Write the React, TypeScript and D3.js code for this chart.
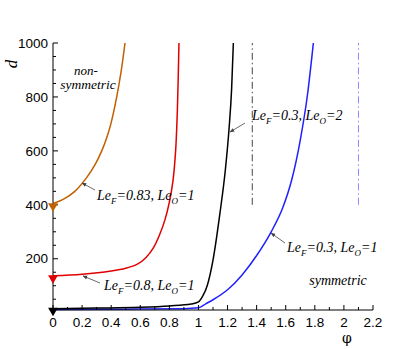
import React from "react";
import * as d3 from "d3";

const W = 407;
const H = 349;

// series: [phi, d]
const orangeSeries: [number, number][] = [
  [0, 405], [0.07, 420], [0.15, 450], [0.23, 500], [0.29, 550], [0.335, 600],
  [0.37, 650], [0.40, 705], [0.438, 800], [0.47, 900], [0.495, 1000],
];
const redSeries: [number, number][] = [
  [0, 137], [0.2, 143], [0.4, 155], [0.5, 165], [0.58, 180], [0.64, 205], [0.69, 240],
  [0.73, 285], [0.77, 345], [0.80, 410], [0.825, 490], [0.843, 600], [0.855, 750], [0.866, 1000],
];
const blackSeries: [number, number][] = [
  [0, 15], [0.3, 17], [0.6, 20], [0.8, 25], [0.95, 32], [1.0, 40], [1.03, 62],
  [1.06, 100], [1.1, 195], [1.148, 370], [1.185, 530], [1.21, 680], [1.228, 830], [1.24, 1000],
];
const blueSeries: [number, number][] = [
  [0, 12], [0.5, 13], [0.9, 15], [1.0, 18], [1.05, 33], [1.1, 48], [1.2, 85],
  [1.3, 140], [1.4, 212], [1.5, 300], [1.58, 390], [1.64, 490], [1.7, 640], [1.75, 810], [1.79, 1000],
];
const vlineGray = { phi: 1.37, d0: 400, d1: 1000 };
const vlineBlue = { phi: 2.1, d0: 400, d1: 1000 };

const xTickLabels = [0, 0.2, 0.4, 0.6, 0.8, 1, 1.2, 1.4, 1.6, 1.8, 2, 2.2];
const yTickLabels = [200, 400, 600, 800, 1000];

const markers = [
  { phi: 0, d: 395, color: "#c06000" },
  { phi: 0, d: 128, color: "#e00000" },
  { phi: 0, d: 8, color: "#000000" },
];

type Ann = { sub1: string; v1: string; sub2: string; v2: string; x: number; y: number; ax0: number; ay0: number; ax1: number; ay1: number };
const annotations: Ann[] = [
  { sub1: "F", v1: "0.83", sub2: "O", v2: "1", x: 97, y: 200, ax0: 95, ay0: 190, ax1: 82, ay1: 183 },
  { sub1: "F", v1: "0.8", sub2: "O", v2: "1", x: 104, y: 290, ax0: 100, ay0: 283, ax1: 83, ay1: 276 },
  { sub1: "F", v1: "0.3", sub2: "O", v2: "2", x: 252, y: 120, ax0: 245, ay0: 123, ax1: 230, ay1: 132 },
  { sub1: "F", v1: "0.3", sub2: "O", v2: "1", x: 287, y: 252, ax0: 285, ay0: 243, ax1: 271, ay1: 233 },
];

export default function App() {
  const x = d3.scaleLinear().domain([0, 2.2]).range([53, 373]);
  const y = d3.scaleLinear().domain([10, 1000]).range([310, 43]);
  const smooth = d3
    .line<[number, number]>()
    .x((p) => x(p[0]))
    .y((p) => y(p[1]))
    .curve(d3.curveCatmullRom.alpha(0.5));
  const mono = d3
    .line<[number, number]>()
    .x((p) => x(p[0]))
    .y((p) => y(p[1]))
    .curve(d3.curveMonotoneX);

  const xMinor = d3.range(0, 2.2001, 0.1);
  const yMinor = d3.range(50, 1000.1, 50);
  const tri = d3.symbol().type(d3.symbolTriangle).size(42)() as string;
  const serif = "'Liberation Serif', 'DejaVu Serif', serif";
  const sans = "'Liberation Sans', Arial, sans-serif";

  return (
    <svg
      width={W}
      height={H}
      style={{ position: "fixed", left: 0, top: 0, background: "#fff" }}
    >
      <defs>
        <clipPath id="plot">
          <rect x={53} y={43} width={320} height={268} />
        </clipPath>
        <marker id="ah" viewBox="0 0 10 10" refX="9" refY="5" markerWidth="6" markerHeight="6" orient="auto">
          <path d="M0,1 L10,5 L0,9 Z" fill="#444" />
        </marker>
      </defs>

      {/* vertical dash-dot lines */}
      <line x1={x(vlineGray.phi)} x2={x(vlineGray.phi)} y1={y(vlineGray.d0)} y2={y(vlineGray.d1)} stroke="#444" strokeWidth={1} strokeDasharray="7,3,1.5,3" />
      <line x1={x(vlineBlue.phi)} x2={x(vlineBlue.phi)} y1={y(vlineBlue.d0)} y2={y(vlineBlue.d1)} stroke="#8888ff" strokeWidth={1} strokeDasharray="7,3,1.5,3" />

      {/* curves */}
      <g clipPath="url(#plot)" fill="none" strokeWidth={1.5}>
        <path d={mono(blueSeries) || ""} stroke="#2020ff" />
        <path d={mono(blackSeries) || ""} stroke="#000" />
        <path d={smooth(redSeries) || ""} stroke="#e00000" />
        <path d={smooth(orangeSeries) || ""} stroke="#c06000" />
      </g>

      {/* axes */}
      <line x1={53} x2={53} y1={43} y2={310} stroke="#000" strokeWidth={1} />
      <line x1={53} x2={373} y1={310} y2={310} stroke="#000" strokeWidth={1} />
      {yMinor.map((v) => {
        const major = yTickLabels.includes(v);
        return <line key={"yt" + v} x1={53} x2={53 + (major ? 5 : 3)} y1={y(v)} y2={y(v)} stroke="#000" strokeWidth={1} />;
      })}
      {xMinor.map((v, i) => {
        const major = i % 2 === 0;
        return <line key={"xt" + i} x1={x(v)} x2={x(v)} y1={310} y2={310 - (major ? 5 : 3)} stroke="#000" strokeWidth={1} />;
      })}
      {yTickLabels.map((v) => (
        <text key={"yl" + v} x={48} y={y(v)} dy="0.35em" textAnchor="end" fontFamily={sans} fontSize={13.5} fill="#000">
          {v}
        </text>
      ))}
      {xTickLabels.map((v) => (
        <text key={"xl" + v} x={x(v)} y={327} textAnchor="middle" fontFamily={sans} fontSize={13.5} fill="#000">
          {String(v)}
        </text>
      ))}

      {/* axis titles */}
      <text x={347} y={343} textAnchor="middle" fontFamily="'DejaVu Serif', serif" fontSize={14} fill="#000">φ</text>
      <text transform="translate(17,64) rotate(-90)" textAnchor="middle" fontFamily={serif} fontStyle="italic" fontSize={17} fill="#000">d</text>

      {/* markers */}
      {markers.map((m, i) => (
        <path key={"m" + i} d={tri} transform={`translate(${x(m.phi)},${y(m.d)}) rotate(180)`} fill={m.color} />
      ))}

      {/* region labels */}
      <text x={86} y={75} textAnchor="middle" fontFamily={serif} fontStyle="italic" fontSize={13}>non-</text>
      <text x={88} y={89} textAnchor="middle" fontFamily={serif} fontStyle="italic" fontSize={13.5}>symmetric</text>
      <text x={338} y={285} textAnchor="middle" fontFamily={serif} fontStyle="italic" fontSize={14}>symmetric</text>

      {/* annotations */}
      {annotations.map((a, i) => (
        <g key={"a" + i}>
          <line x1={a.ax0} y1={a.ay0} x2={a.ax1} y2={a.ay1} stroke="#444" strokeWidth={0.8} markerEnd="url(#ah)" />
          <text x={a.x} y={a.y} fontFamily={serif} fontStyle="italic" fontSize={14} fill="#000">
            Le
            <tspan fontSize={9} dy={4}>{a.sub1}</tspan>
            <tspan dy={-4}>{"=" + a.v1 + ", Le"}</tspan>
            <tspan fontSize={9} dy={4}>{a.sub2}</tspan>
            <tspan dy={-4}>{"=" + a.v2}</tspan>
          </text>
        </g>
      ))}
    </svg>
  );
}
